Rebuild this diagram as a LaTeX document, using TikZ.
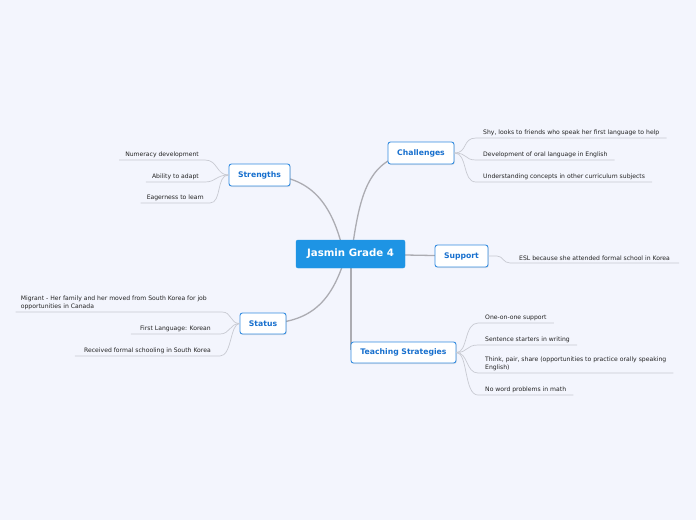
\documentclass[tikz,border=0pt]{standalone}
\usepackage{fontspec}
\setmainfont{DejaVu Sans}
\usetikzlibrary{shadows}
\definecolor{bgc}{RGB}{243,245,253}
\definecolor{mainblue}{RGB}{30,148,228}
\definecolor{boxborder}{RGB}{52,140,224}
\definecolor{boxtext}{RGB}{24,112,206}
\definecolor{mainline}{RGB}{172,172,178}
\definecolor{leafline}{RGB}{200,202,210}
\definecolor{leaftext}{RGB}{35,35,35}
\tikzset{
  mainbox/.style={draw=mainblue, fill=mainblue, rounded corners=2pt, text=white,
    font=\fontsize{10.2}{12}\selectfont\bfseries, minimum width=109pt, minimum height=28pt, inner sep=0pt},
  topicbox/.style={draw=boxborder, line width=0.9pt, fill=white, rounded corners=2.5pt, text=boxtext,
    font=\fontsize{7.7}{9}\selectfont\bfseries, minimum height=22pt, inner sep=0pt,
    drop shadow={opacity=0.18, shadow xshift=0.8pt, shadow yshift=-1pt}},
  leafR/.style={anchor=south west, inner xsep=7pt, inner ysep=2.5pt, text=leaftext,
    font=\fontsize{6.1}{7.2}\selectfont, align=left},
  leafL/.style={anchor=south east, inner xsep=6pt, inner ysep=2.5pt, text=leaftext,
    font=\fontsize{6.1}{7.2}\selectfont, align=left},
  mainconn/.style={draw=mainline, line width=1.3pt},
  leafconn/.style={draw=leafline, line width=0.7pt},
}
\begin{document}
\begin{tikzpicture}[x=1pt,y=-1pt]
\fill[bgc] (0,0) rectangle (696,520);
\useasboundingbox (0,0) rectangle (696,520);

% main branch connectors (drawn first so boxes cover their ends)
\draw[mainconn] (343,250) .. controls (332,205) and (312,175) .. (262,175);
\draw[mainconn] (352,250) .. controls (360,195) and (368,153) .. (421,153);
\draw[mainconn] (350,254) -- (461,256);
\draw[mainconn] (345,258) .. controls (332,300) and (312,323.5) .. (263,323.5);
\draw[mainconn] (351,254) -- (351,350);

\node[mainbox] (main) at (350.5,254) {Jasmin Grade 4};
\node[topicbox, minimum width=61pt] (str) at (259.5,175) {Strengths};
\node[topicbox, minimum width=66pt] (cha) at (421,153) {Challenges};
\node[topicbox, minimum width=53pt] (sup) at (461.5,256) {Support};
\node[topicbox, minimum width=46pt, minimum height=21pt] (sta) at (263,323.5) {Status};
\node[topicbox, minimum width=105pt, minimum height=21pt] (tea) at (403.5,352.5) {Teaching Strategies};

% leaves
\node[leafR] (c1) at (476,138) {Shy, looks to friends who speak her first language to help};
\node[leafR] (c2) at (476,160) {Development of oral language in English};
\node[leafR] (c3) at (476,182) {Understanding concepts in other curriculum subjects};

\node[leafL] (s1) at (205,160) {Numeracy development};
\node[leafL] (s2) at (205,182) {Ability to adapt};
\node[leafL] (s3) at (210,203) {Eagerness to learn};

\node[leafR, inner xsep=9pt] (p1) at (510,263) {ESL because she attended formal school in Korea};

\coordinate (t1e) at (222,312);
\node[leafL, inner xsep=5pt] (t1) at (212,312) {Migrant - Her family and her moved from South Korea for job\\opportunities in Canada};
\node[leafL, inner xsep=9pt] (t2) at (220,334) {First Language: Korean};
\node[leafL, inner xsep=9pt] (t3) at (220,356) {Received formal schooling in South Korea};

\node[leafR] (e1) at (478,323) {One-on-one support};
\node[leafR] (e2) at (478,345) {Sentence starters in writing};
\node[leafR] (e3) at (478,373) {Think, pair, share (opportunities to practice orally speaking\\English)};
\node[leafR] (e4) at (478,395) {No word problems in math};

% leaf connectors
\draw[leafconn] (cha.east) .. controls (468,153) and (462,138) .. (c1.south west) -- (c1.south east);
\draw[leafconn] (cha.east) .. controls (468,153) and (464,160) .. (c2.south west) -- (c2.south east);
\draw[leafconn] (cha.east) .. controls (468,153) and (462,182) .. (c3.south west) -- (c3.south east);

\draw[leafconn] (str.west) .. controls (216,175) and (218,160) .. (s1.south east) -- (s1.south west);
\draw[leafconn] (str.west) .. controls (216,175) and (216,182) .. (s2.south east) -- (s2.south west);
\draw[leafconn] (str.west) .. controls (216,175) and (222,203) .. (s3.south east) -- (s3.south west);

\draw[leafconn] (sup.east) -- (497,256) .. controls (503,256) and (503,263) .. (p1.south west) -- (p1.south east);

\draw[leafconn] (sta.west) .. controls (230,323.5) and (232,312) .. (t1e) -- (t1.south west);
\draw[leafconn] (sta.west) .. controls (230,323.5) and (230,334) .. (t2.south east) -- (t2.south west);
\draw[leafconn] (sta.west) .. controls (230,323.5) and (232,356) .. (t3.south east) -- (t3.south west);

\draw[leafconn] (tea.east) .. controls (468,352.5) and (464,323) .. (e1.south west) -- (e1.south east);
\draw[leafconn] (tea.east) .. controls (468,352.5) and (466,345) .. (e2.south west) -- (e2.south east);
\draw[leafconn] (tea.east) .. controls (468,352.5) and (466,373) .. (e3.south west) -- (e3.south east);
\draw[leafconn] (tea.east) .. controls (468,352.5) and (464,395) .. (e4.south west) -- (e4.south east);
\end{tikzpicture}
\end{document}
